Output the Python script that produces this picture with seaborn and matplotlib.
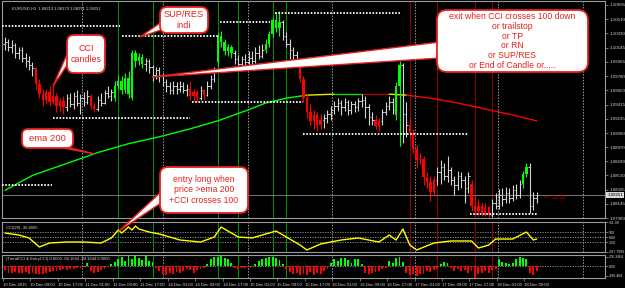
import matplotlib
matplotlib.use("Agg")
import matplotlib.pyplot as plt
import seaborn as sns
import numpy as np
from matplotlib.patches import FancyBboxPatch, Polygon
from matplotlib.transforms import Affine2D, blended_transform_factory

# ---------------- data ----------------
bar_type = list(
    "wwwwwwwww" "rrrrrrrrr" "wwwwwww" "rr" "wwwww" "ggggggggg"
    "wwwwwwwwwwwww" "rrr" "w" "r" "www" "ggggg" "wwwwwwwww" "ggggg"
    "wwwww" "rrrrrrr" "wwwwwwwwwwwwwww" "rr" "wwww" "gg" "ww"
    "rrrrrrrr" "wwwwwwwwww" "rrrrrr" "wwwwwwwww" "gg" "www"
)
opens = [1.1020, 1.1022, 1.1015, 1.1018, 1.1008, 1.1012, 1.1002, 1.0998, 1.0992,
         1.0988, 1.0968, 1.0955, 1.0948, 1.0958, 1.0945, 1.0952, 1.0940, 1.0946,
         1.0938, 1.0950, 1.0942, 1.0952, 1.0944, 1.0950, 1.0945, 1.0953, 1.0940,
         1.0936, 1.0948, 1.0944, 1.0956, 1.0952,
         1.0950, 1.0966, 1.0972, 1.0960, 1.0976, 1.0950, 1.1008, 1.0998, 1.1003,
         1.0994, 1.0998, 1.0990, 1.0980, 1.0986, 1.0978, 1.0970, 1.0966, 1.0960,
         1.0966, 1.0962, 1.0966, 1.0960,
         1.0962, 1.0952, 1.0958, 1.0950, 1.0960,
         1.0954, 1.0966, 1.0975,
         1.0996, 1.1030, 1.1022, 1.1010, 1.1016,
         1.1008, 1.1000, 1.0994, 1.1000, 1.0996, 1.1002, 1.0998, 1.1008, 1.1004,
         1.1012, 1.1020, 1.1032, 1.1050, 1.1040,
         1.1048, 1.1030, 1.1020, 1.1012, 1.1005,
         1.1000, 1.0975, 1.0950, 1.0932, 1.0920, 1.0928, 1.0915,
         1.0922, 1.0925, 1.0930, 1.0935, 1.0940, 1.0944, 1.0938, 1.0945, 1.0935,
         1.0942, 1.0938, 1.0946, 1.0948, 1.0938, 1.0926,
         1.0922, 1.0914,
         1.0920, 1.0932, 1.0940, 1.0945,
         1.0928, 1.0965,
         1.0992, 1.0930,
         1.0915, 1.0905, 1.0885, 1.0870, 1.0872, 1.0848, 1.0842, 1.0830,
         1.0845, 1.0855, 1.0862, 1.0850, 1.0858, 1.0845, 1.0838, 1.0850, 1.0845, 1.0835,
         1.0840, 1.0812, 1.0805, 1.0812, 1.0803, 1.0810,
         1.0800, 1.0815, 1.0812, 1.0826, 1.0820, 1.0828, 1.0822, 1.0832, 1.0826,
         1.0840, 1.0852,
         1.0862, 1.0812, 1.0822]
highs = [1.1028, 1.1026, 1.1024, 1.1021, 1.1016, 1.1015, 1.1008, 1.1004, 1.0996,
         1.0990, 1.0975, 1.0962, 1.0962, 1.0965, 1.0968, 1.0956, 1.0950, 1.0952,
         1.0955, 1.0956, 1.0958, 1.0960, 1.0955, 1.0958, 1.0960, 1.0955, 1.0945,
         1.0952, 1.0956, 1.0960, 1.0966, 1.0962,
         1.0972, 1.0980, 1.0978, 1.0982, 1.0985, 1.1012, 1.1012, 1.1008, 1.1006,
         1.1002, 1.1000, 1.0993, 1.0990, 1.0990, 1.0982, 1.0975, 1.0970, 1.0972,
         1.0970, 1.0972, 1.0970, 1.0968,
         1.0970, 1.0962, 1.0960, 1.0966, 1.0962,
         1.0972, 1.0980, 1.0990,
         1.1034, 1.1036, 1.1026, 1.1020, 1.1018,
         1.1012, 1.1005, 1.1004, 1.1006, 1.1010, 1.1010, 1.1015, 1.1018, 1.1020,
         1.1026, 1.1036, 1.1054, 1.1060, 1.1062,
         1.1050, 1.1035, 1.1026, 1.1016, 1.1010,
         1.1002, 1.0978, 1.0955, 1.0942, 1.0935, 1.0932, 1.0930,
         1.0930, 1.0935, 1.0940, 1.0946, 1.0950, 1.0948, 1.0950, 1.0948, 1.0946,
         1.0946, 1.0950, 1.0955, 1.0952, 1.0942, 1.0932,
         1.0928, 1.0925,
         1.0936, 1.0945, 1.0952, 1.0950,
         1.0970, 1.0998,
         1.0995, 1.0945,
         1.0925, 1.0910, 1.0890, 1.0880, 1.0875, 1.0855, 1.0850, 1.0850,
         1.0862, 1.0870, 1.0866, 1.0875, 1.0862, 1.0850, 1.0856, 1.0855, 1.0850, 1.0855,
         1.0845, 1.0825, 1.0820, 1.0815, 1.0815, 1.0812,
         1.0820, 1.0828, 1.0833, 1.0835, 1.0836, 1.0834, 1.0838, 1.0840, 1.0845,
         1.0856, 1.0866,
         1.0866, 1.0830, 1.0830]
lows = [1.1012, 1.1010, 1.1008, 1.1002, 1.1000, 1.0996, 1.0990, 1.0986, 1.0978,
        1.0962, 1.0950, 1.0940, 1.0942, 1.0940, 1.0942, 1.0932, 1.0934, 1.0930,
        1.0934, 1.0938, 1.0936, 1.0940, 1.0930, 1.0940, 1.0942, 1.0936, 1.0932,
        1.0934, 1.0940, 1.0942, 1.0950, 1.0946,
        1.0946, 1.0962, 1.0955, 1.0956, 1.0950, 1.0948, 1.0990, 1.0992, 1.0988,
        1.0985, 1.0982, 1.0972, 1.0975, 1.0970, 1.0965, 1.0958, 1.0955, 1.0955,
        1.0955, 1.0958, 1.0956, 1.0952,
        1.0948, 1.0946, 1.0945, 1.0947, 1.0948,
        1.0952, 1.0962, 1.0970,
        1.0990, 1.1015, 1.1005, 1.1004, 1.1002,
        1.0994, 1.0988, 1.0990, 1.0990, 1.0990, 1.0994, 1.0995, 1.1000, 1.1002,
        1.1008, 1.1015, 1.1028, 1.1035, 1.1030,
        1.1025, 1.1015, 1.1000, 1.0998, 1.0992,
        1.0970, 1.0945, 1.0925, 1.0915, 1.0910, 1.0908, 1.0910,
        1.0912, 1.0918, 1.0922, 1.0930, 1.0934, 1.0928, 1.0934, 1.0928, 1.0930,
        1.0932, 1.0934, 1.0938, 1.0925, 1.0915, 1.0916,
        1.0910, 1.0908,
        1.0915, 1.0928, 1.0935, 1.0930,
        1.0922, 1.0888,
        1.0892, 1.0900,
        1.0898, 1.0880, 1.0860, 1.0865, 1.0838, 1.0835, 1.0818, 1.0826,
        1.0838, 1.0840, 1.0845, 1.0842, 1.0838, 1.0826, 1.0832, 1.0835, 1.0815, 1.0828,
        1.0805, 1.0800, 1.0798, 1.0798, 1.0799, 1.0797,
        1.0797, 1.0808, 1.0808, 1.0812, 1.0815, 1.0815, 1.0818, 1.0820, 1.0822,
        1.0835, 1.0848,
        1.0803, 1.0806, 1.0815]
closes = [1.1022, 1.1015, 1.1018, 1.1008, 1.1012, 1.1002, 1.0998, 1.0992, 1.0988,
          1.0968, 1.0955, 1.0948, 1.0958, 1.0945, 1.0952, 1.0940, 1.0946, 1.0938,
          1.0950, 1.0942, 1.0952, 1.0944, 1.0950, 1.0945, 1.0953, 1.0940, 1.0936,
          1.0948, 1.0944, 1.0956, 1.0952, 1.0958,
          1.0966, 1.0972, 1.0960, 1.0976, 1.0955, 1.1008, 1.0998, 1.1003, 1.0994,
          1.0998, 1.0990, 1.0980, 1.0986, 1.0978, 1.0970, 1.0966, 1.0960, 1.0966,
          1.0962, 1.0966, 1.0960, 1.0962,
          1.0952, 1.0958, 1.0950, 1.0960, 1.0954,
          1.0966, 1.0975, 1.0985,
          1.1030, 1.1022, 1.1010, 1.1016, 1.1008,
          1.1000, 1.0994, 1.1000, 1.0996, 1.1002, 1.0998, 1.1008, 1.1004, 1.1012,
          1.1020, 1.1032, 1.1050, 1.1040, 1.1048,
          1.1030, 1.1020, 1.1012, 1.1005, 1.1000,
          1.0975, 1.0950, 1.0932, 1.0920, 1.0928, 1.0915, 1.0922,
          1.0925, 1.0930, 1.0935, 1.0940, 1.0944, 1.0938, 1.0945, 1.0935, 1.0942,
          1.0938, 1.0946, 1.0948, 1.0938, 1.0926, 1.0922,
          1.0914, 1.0920,
          1.0932, 1.0940, 1.0945, 1.0935,
          1.0965, 1.0992,
          1.0930, 1.0915,
          1.0905, 1.0885, 1.0870, 1.0872, 1.0848, 1.0842, 1.0830, 1.0845,
          1.0855, 1.0862, 1.0850, 1.0858, 1.0845, 1.0838, 1.0850, 1.0845, 1.0835, 1.0850,
          1.0812, 1.0805, 1.0812, 1.0803, 1.0810, 1.0800,
          1.0815, 1.0812, 1.0826, 1.0820, 1.0828, 1.0822, 1.0832, 1.0826, 1.0840,
          1.0852, 1.0862,
          1.0812, 1.0822, 1.0825]

# EMA 200 (sampled at bars) and its colour per segment
ema_bars = [0, 8, 18, 27, 36, 45, 54, 62, 70, 76, 82, 88, 96, 104, 112, 117, 124, 132, 140, 148, 155]
ema_vals = [1.08316, 1.08507, 1.08660, 1.08800, 1.08914, 1.09003, 1.09105, 1.09207, 1.09334,
            1.09436, 1.09499, 1.09537, 1.09550, 1.09550, 1.09550, 1.09537, 1.09499, 1.09436,
            1.09359, 1.09283, 1.09207]
ema_seg_colors = ["#00ff00"] * 11 + ["#e8e800", "#00e000", "#a01010", "#e8e800"] + ["#ff0000"] * 5

# support / resistance levels
sr_levels = [1.10428, 1.10300, 1.10479, 1.10593, 1.10122, 1.08380, 1.09245, 1.09448, 1.09041, 1.08011]
sr_start = [-0.9, 34.0, 62.7, 78.7, 115.2, -0.9, 14.0, 54.5, 87.0, 135.5]
sr_end = [33.5, 62.0, 77.3, 115.0, 118.0, 13.7, 54.0, 87.0, 135.0, 155.5]

entry_bars = [33, 43, 62, 68, 78, 82]
exit_bars = [118, 126, 137, 142]
grid_bars = [22.4, 46.1, 70.9, 95.3, 119.5, 143.7, 168.5]

# CCI(20) line
cci_bars = [0, 4, 7, 10, 13, 18, 23, 28, 31, 33, 34, 36, 37, 38, 39, 42, 45, 51, 57, 61, 63,
            68, 72, 79, 82, 86, 88, 92, 98, 103, 106, 109, 112, 114, 116, 118, 120, 125,
            130, 136, 138, 141, 143, 148, 152, 154, 155]
cci_vals = [88, 48, -13, -196, -115, -95, -95, -115, -13, 149, 88, 210, 149, 230, 170, 108, 68,
            -54, -95, 7, 210, 7, -13, 129, 7, -156, -257, -135, -54, -13, -54, -95, 48, -54,
            170, -156, -257, -115, -74, -74, -217, -156, -34, -34, 108, -54, -34]

# TrendCCI / EntryCCI histogram (one value per bar)
hist_vals = [-120, -200, -210, -190, -220, -200, -180, -230, -210, -240, -250, -230, -210,
             -190, -160, -150, -120, -100, -110, -90, -80, -60, -50, -40, 80, -150, -220,
             -180, -120, -80, -40, 60, 120, 200, 260, 150, 300, 220, 360, 250, 180, 300, 150,
             120, -60, -150, -240, -280, -200, -250, -180, -220, -150, -100, -130, -200, -120,
             -80, -50, 60, 200, 280, 260, 330, 240, 200, 100, -60, -90, -50, -70, -40, -30,
             60, 150, 220, 250, 280, 260, 230, 180, 60, -100, -180, -240, -200, -260, -230,
             -280, -180, -260, -200, -230, -150, -100, 100, 220, 150, 250, 240, 180, 80, 200,
             220, 60, -200, -250, -200, -180, -150, -90, -60, 150, 80, 240, 260, 120, -200,
             -280, -250, -300, -240, -230, -150, -180, -120, -80, 60, 120, 90, -60, -150, -100,
             -140, -120, -200, -150, -380, -240, -200, -160, -220, -120, -100, 200, 120, 100,
             60, 100, 220, 270, 240, 200, -200, -260, -150]

price_ticks = [1.10695, 1.10510, 1.10330, 1.10145, 1.09965, 1.09780, 1.09600, 1.09415,
               1.09235, 1.09050, 1.08870, 1.08690, 1.08510, 1.08325, 1.08145, 1.07960]
cci_ticks = [311.99, 100, 0, -100, -297.7999]
cci_tick_labels = ["311.99", "100", "0.00", "-100", "-297.7999"]
hist_ticks = [276.3064, 0, -288.468]
hist_tick_labels = ["276.3064", "0.00", "-288.468"]
time_labels = ["10 Dec 2015", "10 Dec 09:00", "10 Dec 17:00", "11 Dec 01:00", "11 Dec 09:00",
               "11 Dec 17:00", "14 Dec 01:00", "14 Dec 09:00", "14 Dec 17:00", "15 Dec 01:00",
               "15 Dec 09:00", "15 Dec 17:00", "16 Dec 01:00", "16 Dec 09:00", "16 Dec 17:00",
               "17 Dec 01:00", "17 Dec 09:00", "17 Dec 17:00", "18 Dec 01:00", "18 Dec 09:00"]
current_price = 1.08251

# ---------------- style ----------------
sns.set_theme(style="dark", rc={"axes.facecolor": "black", "figure.facecolor": "black",
                                "axes.edgecolor": "#9a9a9a", "axes.grid": False})
plt.rcParams["font.family"] = ["Liberation Sans", "DejaVu Sans"]

W, H = 625, 288
fig = plt.figure(figsize=(W / 100, H / 100), dpi=100, facecolor="black")


def rect(x0, y0, x1, y1):
    return [x0 / W, 1 - y1 / H, (x1 - x0) / W, (y1 - y0) / H]


ax_main = fig.add_axes(rect(2, 1, 605, 218))
ax_cci = fig.add_axes(rect(2, 222, 605, 252))
ax_h = fig.add_axes(rect(2, 255, 605, 278))

XMIN, XMAX = -0.88, 174.9
GRAY = "#9a9a9a"
LBL = "#d8d8d8"
for ax in (ax_main, ax_cci, ax_h):
    ax.set_facecolor("black")
    ax.set_xlim(XMIN, XMAX)
    for sp in ax.spines.values():
        sp.set_color(GRAY)
        sp.set_linewidth(0.8)
    ax.yaxis.tick_right()
    ax.tick_params(axis="y", right=True, left=False, length=2, width=0.5, color=GRAY,
                   labelcolor=LBL, labelsize=3.2, pad=1.2)
    for g in grid_bars:
        ax.axvline(g, color=GRAY, lw=0.7, ls=(0, (1.5, 1.5)), zorder=1)
    for e in entry_bars:
        ax.axvline(e, color="#009400", lw=0.7, zorder=1.5)
    for e in exit_bars:
        ax.axvline(e, color="#980000", lw=0.7, zorder=1.5)

ax_main.set_xticks([])
ax_cci.set_xticks([])

# ---------- main panel ----------
ax_main.set_ylim(1.07985, 1.10746)
ax_main.set_yticks(price_ticks)
ax_main.set_yticklabels([f"{p:.5f}" for p in price_ticks])

colmap = {"w": "#d4d4d4", "g": "#00ff00", "r": "#ff0000"}
n = len(closes)
idx = np.arange(n)
cols = [colmap[t] for t in bar_type]
ax_main.vlines(idx, lows, highs, colors=cols, lw=0.8, zorder=3)
o = np.array(opens)
c = np.array(closes)
colored = np.array([t != "w" for t in bar_type])
body = np.where(np.abs(c - o) < 0.00008, 0.00008, c - o)
ax_main.bar(idx[colored], body[colored], bottom=o[colored], width=0.7,
            color=np.array(cols)[colored], linewidth=0, zorder=3)
white = ~colored
ax_main.hlines(o[white], idx[white] - 0.45, idx[white], colors="#d4d4d4", lw=0.7, zorder=3)
ax_main.hlines(c[white], idx[white], idx[white] + 0.45, colors="#d4d4d4", lw=0.7, zorder=3)

ax_main.hlines(sr_levels, sr_start, sr_end, colors="white", lw=1.3,
               linestyles=[(0, (0.9, 0.9))], zorder=4)

# EMA 200
run_start = 0
for k in range(1, len(ema_seg_colors) + 1):
    if k == len(ema_seg_colors) or ema_seg_colors[k] != ema_seg_colors[run_start]:
        sns.lineplot(x=ema_bars[run_start:k + 1], y=ema_vals[run_start:k + 1], ax=ax_main,
                     color=ema_seg_colors[run_start], lw=1.0, zorder=2.5)
        run_start = k

ax_main.axhline(current_price, color="#8a8a8a", lw=0.6, zorder=2)
bt = blended_transform_factory(ax_main.transAxes, ax_main.transData)
ax_main.text(1.004, current_price, f"{current_price:.5f}", transform=bt, fontsize=3.2,
             color="black", va="center", ha="left",
             bbox=dict(boxstyle="square,pad=0.25", facecolor="#d8d8d8", edgecolor="none"),
             zorder=6, clip_on=False)
ax_main.text(157.0, current_price - 0.00022, "<-- 23:38", color="#d00000", fontsize=3.8,
             va="center", ha="left", zorder=6)
ax_main.text(0.016, 0.975, "EURUSD,H1  1.08213 1.08379 1.08251 1.08251",
             transform=ax_main.transAxes, fontsize=3, color=LBL, va="top", ha="left")
ax_main.set_xlabel("")
ax_main.set_ylabel("")

# ---------- CCI panel ----------
ax_cci.set_ylim(-297.8, 311.99)
ax_cci.set_yticks(cci_ticks)
ax_cci.set_yticklabels(cci_tick_labels)
ax_cci.tick_params(axis="y", labelsize=2.6, pad=1.0)
for lv in (100, 0, -100):
    ax_cci.axhline(lv, color=GRAY, lw=0.6, ls=(0, (1.5, 1.5)), zorder=1)
sns.lineplot(x=cci_bars, y=cci_vals, ax=ax_cci, color="#ffff00", lw=1.0, zorder=3)
ax_cci.text(0.006, 0.86, "CCI(20) -30.4005", transform=ax_cci.transAxes, fontsize=3,
            color=LBL, va="top", ha="left")
ax_cci.set_xlabel("")
ax_cci.set_ylabel("")

# ---------- histogram panel ----------
ax_h.set_ylim(-356, 327)
ax_h.set_yticks(hist_ticks)
ax_h.set_yticklabels(hist_tick_labels)
ax_h.tick_params(axis="y", labelsize=2.6, pad=1.0)
hv = np.array(hist_vals)
ax_h.bar(idx, hv, width=0.55, color=np.where(hv > 0, "#00ff00", "#ff0000"), linewidth=0,
         zorder=3)
ax_h.axhline(0, color=GRAY, lw=0.6, ls=(0, (1.5, 1.5)), zorder=1)
ax_h.text(0.006, 0.93, "(TrendCCI & EntryCCI) 0.0000 -84.1644 -84.1644 0.0000",
          transform=ax_h.transAxes, fontsize=3, color=LBL, va="top", ha="left")
ax_h.set_xticks([8 * k - 0.6 for k in range(len(time_labels))])
ax_h.set_xticklabels(time_labels, ha="left")
ax_h.tick_params(axis="x", bottom=True, length=2, width=0.5, color=GRAY, labelcolor=LBL,
                 labelsize=3.1, pad=1.5)

# ---------------- callouts ----------------
T = Affine2D().scale(1, -1).translate(0, H)
RED = "#e8201c"


def box(x0, y0, x1, y1, r, txt, fs, ls=1.15):
    p = FancyBboxPatch((x0, y0), x1 - x0, y1 - y0,
                       boxstyle=f"round,pad=0,rounding_size={r}",
                       facecolor="white", edgecolor=RED, lw=1.3, transform=T, zorder=21)
    fig.add_artist(p)
    fig.text((x0 + x1) / 2, (y0 + y1) / 2, txt, transform=T, ha="center", va="center",
             color=RED, fontsize=fs, linespacing=ls, zorder=22)


def pointer(pts):
    fig.add_artist(Polygon(pts, closed=True, facecolor="white", edgecolor=RED, lw=1.0,
                           transform=T, zorder=20))


pointer([(152, 77), (440, 42), (440, 58)])
pointer([(53, 86), (68, 52), (70, 61)])
pointer([(140, 37), (163, 21), (164, 29)])
pointer([(95, 154), (50, 143), (58, 147)])
pointer([(119, 231), (162, 191), (164, 201)])

box(437, 10, 588, 72, 10, "exit when CCI crosses 100 down\nor trailstop\nor TP\nor RN\n"
    "or SUP/RES\nor End of Candle or.....", 6.2, 1.12)
box(67, 35, 105, 73, 7, "CCI\ncandles", 6.4)
box(160, 7, 208, 33, 7, "SUP/RES\nindi", 6.6)
box(22, 129, 73, 148, 6, "ema 200", 6.8)
box(160, 167, 248, 213, 8, "entry long when\nprice >ema 200\n+CCI crosses 100", 6.2, 1.15)

fig.savefig("out.png", dpi=100, facecolor="black")
